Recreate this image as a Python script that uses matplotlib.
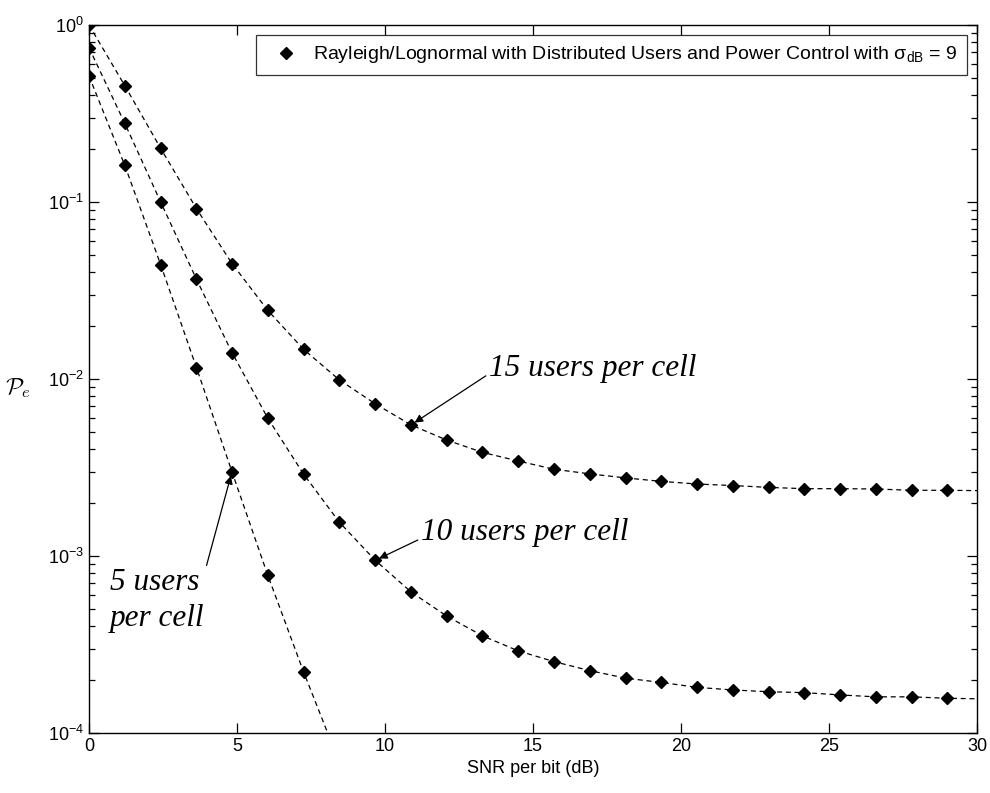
import matplotlib
matplotlib.use("Agg")
import matplotlib.pyplot as plt
from matplotlib.ticker import LogLocator, NullFormatter, FixedLocator

plt.rcParams["font.family"] = ["Liberation Sans", "DejaVu Sans"]
plt.rcParams["mathtext.fontset"] = "custom"
plt.rcParams["mathtext.rm"] = "Liberation Sans"
plt.rcParams["mathtext.it"] = "Liberation Sans:italic"
plt.rcParams["mathtext.default"] = "regular"

# SNR per bit (dB) of the simulated points, plus the curve end at 30 dB
snr_db = [0.0, 1.21, 2.42, 3.63, 4.83, 6.04, 7.25, 8.46, 9.67, 10.88,
          12.08, 13.29, 14.5, 15.71, 16.92, 18.13, 19.33, 20.54, 21.75,
          22.96, 24.17, 25.38, 26.58, 27.79, 29.0, 30.0]

pe_15_users = [1.0, 0.454, 0.201, 0.0917, 0.0449, 0.0244, 0.0147, 0.00987,
               0.00724, 0.0055, 0.00452, 0.00385, 0.00344, 0.00309, 0.00291,
               0.00276, 0.00264, 0.00255, 0.0025, 0.00244, 0.0024, 0.0024,
               0.00239, 0.00235, 0.00235, 0.00234]

pe_10_users = [0.744, 0.278, 0.1, 0.0366, 0.0141, 0.006, 0.0029, 0.00155,
               0.000945, 0.000626, 0.000458, 0.000354, 0.000291, 0.000253,
               0.000225, 0.000204, 0.000193, 0.000181, 0.000175, 0.000171,
               0.000169, 0.000164, 0.00016, 0.00016, 0.000157, 0.000156]

pe_5_users = [0.515, 0.161, 0.0443, 0.0116, 0.00299, 0.000778, 0.000221,
              0.000068]

n_points = 25  # markers only at simulated SNR values

fig = plt.figure(figsize=(9.9, 7.93), dpi=100)
ax = fig.add_axes([0.0899, 0.0757, 0.897, 0.8928])

dash = (0, (4, 3))
ax.plot(snr_db, pe_15_users, color="black", lw=0.9, linestyle=dash,
        marker="D", ms=6, markevery=slice(0, n_points))
ax.plot(snr_db, pe_10_users, color="black", lw=0.9, linestyle=dash,
        marker="D", ms=6, markevery=slice(0, n_points))
ax.plot(snr_db[:len(pe_5_users)], pe_5_users, color="black", lw=0.9,
        linestyle=dash, marker="D", ms=6, markevery=slice(0, 7))

# legend entry: marker only
ax.plot([], [], linestyle="none", marker="D", ms=6, color="black",
        label=r"Rayleigh/Lognormal with Distributed Users and Power Control with $\sigma_{dB}$ = 9")

ax.set_yscale("log")
ax.set_xlim(0, 30)
ax.set_ylim(1e-4, 1)
ax.xaxis.set_major_locator(FixedLocator([0, 5, 10, 15, 20, 25, 30]))
ax.yaxis.set_major_locator(LogLocator(base=10))
ax.yaxis.set_minor_locator(LogLocator(base=10, subs=range(2, 10)))
ax.yaxis.set_minor_formatter(NullFormatter())
ax.tick_params(which="both", direction="in", top=True, right=True,
               labelsize=13, width=0.9)
ax.tick_params(which="major", length=7)
ax.tick_params(which="minor", length=4)
for s in ax.spines.values():
    s.set_linewidth(1.0)

ax.set_xlabel("SNR per bit (dB)", fontsize=13, labelpad=4)
ax.set_ylabel(r"$\mathcal{P}_{\mathit{e}}$", rotation=0, fontsize=17,
              math_fontfamily="cm")
ax.yaxis.set_label_coords(-0.08, 0.47)

leg = ax.legend(loc="upper right", fontsize=14, frameon=True,
                fancybox=False, handlelength=2.1, handletextpad=0.35,
                borderaxespad=0.5, borderpad=0.5)
leg.get_frame().set_edgecolor("black")
leg.get_frame().set_linewidth(0.9)

note = dict(fontsize=22.5, family=["Liberation Serif", "DejaVu Serif"],
            style="italic")
arrow = dict(arrowstyle="-|>", color="black", lw=0.9, mutation_scale=12,
             shrinkA=0, shrinkB=3)

ax.annotate("15 users per cell", xy=(10.88, 0.0055), xytext=(13.5, 0.0115),
            ha="left", va="center",
            arrowprops=dict(arrow, relpos=(0, 0.3)), **note)
ax.annotate("10 users per cell", xy=(9.67, 0.000945), xytext=(11.2, 0.00135),
            ha="left", va="center",
            arrowprops=dict(arrow, relpos=(0, 0.3)), **note)
ax.annotate("5 users\nper cell", xy=(4.83, 0.00299), xytext=(0.7, 0.00056),
            ha="left", va="center", linespacing=1.3,
            arrowprops=dict(arrow, relpos=(0.97, 0.75)), **note)

fig.savefig("out.png", dpi=100)
